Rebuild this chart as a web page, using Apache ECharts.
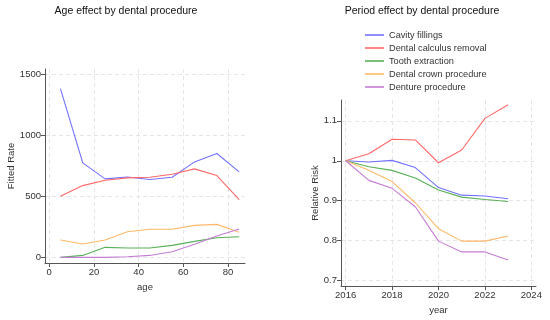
<!DOCTYPE html>
<html><head><meta charset="utf-8">
<script src="https://cdn.jsdelivr.net/npm/echarts@6/dist/echarts.min.js"></script>
<style>html,body{margin:0;padding:0;background:#fff}#c{width:550px;height:320px}</style>
</head><body><div id="c"></div>
<script>
var names = ['Cavity fillings','Dental calculus removal','Tooth extraction','Dental crown procedure','Denture procedure'];
var colors = ['#7272ff','#ff6868','#58b058','#ffb868','#c47cd4'];
var ages = [5,15,25,35,45,55,65,75,85];
var ageCavity   = [1380,773,642,658,637,656,781,850,699];
var ageCalculus = [500,587,631,650,656,680,724,669,473];
var ageExtract  = [0,16,82,77,77,98,131,161,169];
var ageCrown    = [142,109,142,210,230,230,262,270,205];
var ageDenture  = [0,0,0,5,16,46,107,175,232];
var years = [2016,2017,2018,2019,2020,2021,2022,2023];
var perCavity   = [1,0.997,1.001,0.983,0.933,0.914,0.912,0.905];
var perCalculus = [1,1.0175,1.054,1.052,0.995,1.027,1.106,1.14];
var perExtract  = [1,0.985,0.976,0.957,0.927,0.909,0.903,0.898];
var perCrown    = [1,0.976,0.948,0.895,0.83,0.799,0.799,0.812];
var perDenture  = [1,0.951,0.931,0.885,0.799,0.772,0.772,0.752];
var ageTicksX = [0,20,40,60,80];
var ageTicksY = [0,500,1000,1500];
var yearTicks = [2016,2018,2020,2022,2024];
var rrTicks = [0.7,0.8,0.9,1,1.1];

var FONT = '"Liberation Sans",Arial,sans-serif';
function zip(xs, ys){ return xs.map(function(x,i){return [x, ys[i]];}); }
var ageSets = [ageCavity, ageCalculus, ageExtract, ageCrown, ageDenture];
var perSets = [perCavity, perCalculus, perExtract, perCrown, perDenture];

function axisCommon(ticks){
  return {
    axisLine:{show:true,onZero:false,lineStyle:{color:'#555',width:1}},
    axisTick:{show:true,length:4,lineStyle:{color:'#555'},customValues:ticks},
    axisLabel:{color:'#333',fontFamily:FONT,fontSize:9.5,margin:4,customValues:ticks,
      formatter:function(v){return String(+v.toFixed(4));}},
    splitLine:{show:true,lineStyle:{color:'#e6e6e6',type:[4,3],width:1}},
    nameTextStyle:{color:'#333',fontFamily:FONT,fontSize:9.5},
    nameLocation:'middle'
  };
}
function mk(o, base){ for (var k in o) base[k]=o[k]; return base; }

var series = [];
names.forEach(function(n,i){
  series.push({name:n,type:'line',xAxisIndex:0,yAxisIndex:0,data:zip(ages,ageSets[i]),
    showSymbol:false,symbol:'none',lineStyle:{color:colors[i],width:1.1},itemStyle:{color:colors[i]},animation:false});
});
names.forEach(function(n,i){
  series.push({name:n,type:'line',xAxisIndex:1,yAxisIndex:1,data:zip(years,perSets[i]),
    showSymbol:false,symbol:'none',lineStyle:{color:colors[i],width:1.1},itemStyle:{color:colors[i]},animation:false});
});

var chart = echarts.init(document.getElementById('c'), null, {renderer:'canvas'});
chart.setOption({
  animation:false,
  backgroundColor:'#fff',
  title:[
    {text:'Age effect by dental procedure',left:126,top:6,padding:0,textAlign:'center',
     textStyle:{fontFamily:FONT,fontSize:10.5,fontWeight:'normal',color:'#111'}},
    {text:'Period effect by dental procedure',left:422,top:6,padding:0,textAlign:'center',
     textStyle:{fontFamily:FONT,fontSize:10.5,fontWeight:'normal',color:'#111'}}
  ],
  legend:{data:names,orient:'vertical',left:365,top:28.5,padding:0,itemWidth:19,itemHeight:1.6,itemGap:0,icon:'rect',
    textStyle:{fontFamily:FONT,fontSize:9.2,color:'#333',lineHeight:13,padding:[0,0,0,0]}},
  grid:[
    {left:45,top:69,width:200,height:194,containLabel:false},
    {left:341,top:100,width:195,height:187,containLabel:false}
  ],
  xAxis:[
    mk({gridIndex:0,type:'value',min:-1.9,max:87.6,name:'age',nameGap:15},axisCommon(ageTicksX)),
    mk({gridIndex:1,type:'value',min:2015.8,max:2024.2,name:'year',nameGap:14},axisCommon(yearTicks))
  ],
  yAxis:[
    mk({gridIndex:0,type:'value',min:-46,max:1541,name:'Fitted Rate',nameGap:27},axisCommon(ageTicksY)),
    mk({gridIndex:1,type:'value',min:0.6865,max:1.152,name:'Relative Risk',nameGap:20},axisCommon(rrTicks))
  ],
  series:series
});
</script></body></html>
